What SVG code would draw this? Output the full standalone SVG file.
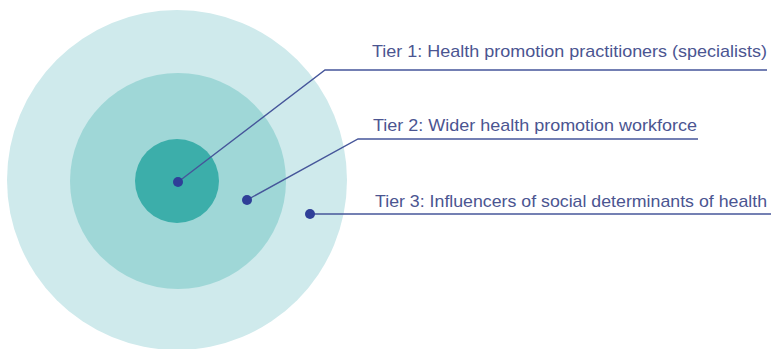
<svg xmlns="http://www.w3.org/2000/svg" width="771" height="349" viewBox="0 0 771 349">
  <style>
    .label { font-family: "Liberation Sans", Arial, sans-serif; font-size: 17px; fill: #4b5591; }
    .leader { fill: none; stroke: #46569a; stroke-width: 1.4; }
    .dot { fill: #2f3f98; }
  </style>
  <rect width="771" height="349" fill="#ffffff"/>
  <g id="tier3-ring"><circle cx="177" cy="180" r="170" fill="#cfeaec"/></g>
  <g id="tier2-ring"><circle cx="178" cy="181" r="108" fill="#9fd7d7"/></g>
  <g id="tier1-ring"><circle cx="177" cy="181" r="42" fill="#3caeaa"/></g>
  <g id="connectors">
    <polyline class="leader" points="178,182 325,70 767,70"/>
    <polyline class="leader" points="247,200 358,139 698,139"/>
    <polyline class="leader" points="310,214 771,214"/>
  </g>
  <g id="tier1">
    <circle class="dot" cx="178" cy="182" r="5"/>
    <text class="label" x="372" y="57" textLength="395" lengthAdjust="spacingAndGlyphs">Tier 1: Health promotion practitioners (specialists)</text>
  </g>
  <g id="tier2">
    <circle class="dot" cx="247" cy="200" r="5"/>
    <text class="label" x="373" y="131" textLength="324" lengthAdjust="spacingAndGlyphs">Tier 2: Wider health promotion workforce</text>
  </g>
  <g id="tier3">
    <circle class="dot" cx="310" cy="214" r="5"/>
    <text class="label" x="375" y="207" textLength="392" lengthAdjust="spacingAndGlyphs">Tier 3: Influencers of social determinants of health</text>
  </g>
</svg>
